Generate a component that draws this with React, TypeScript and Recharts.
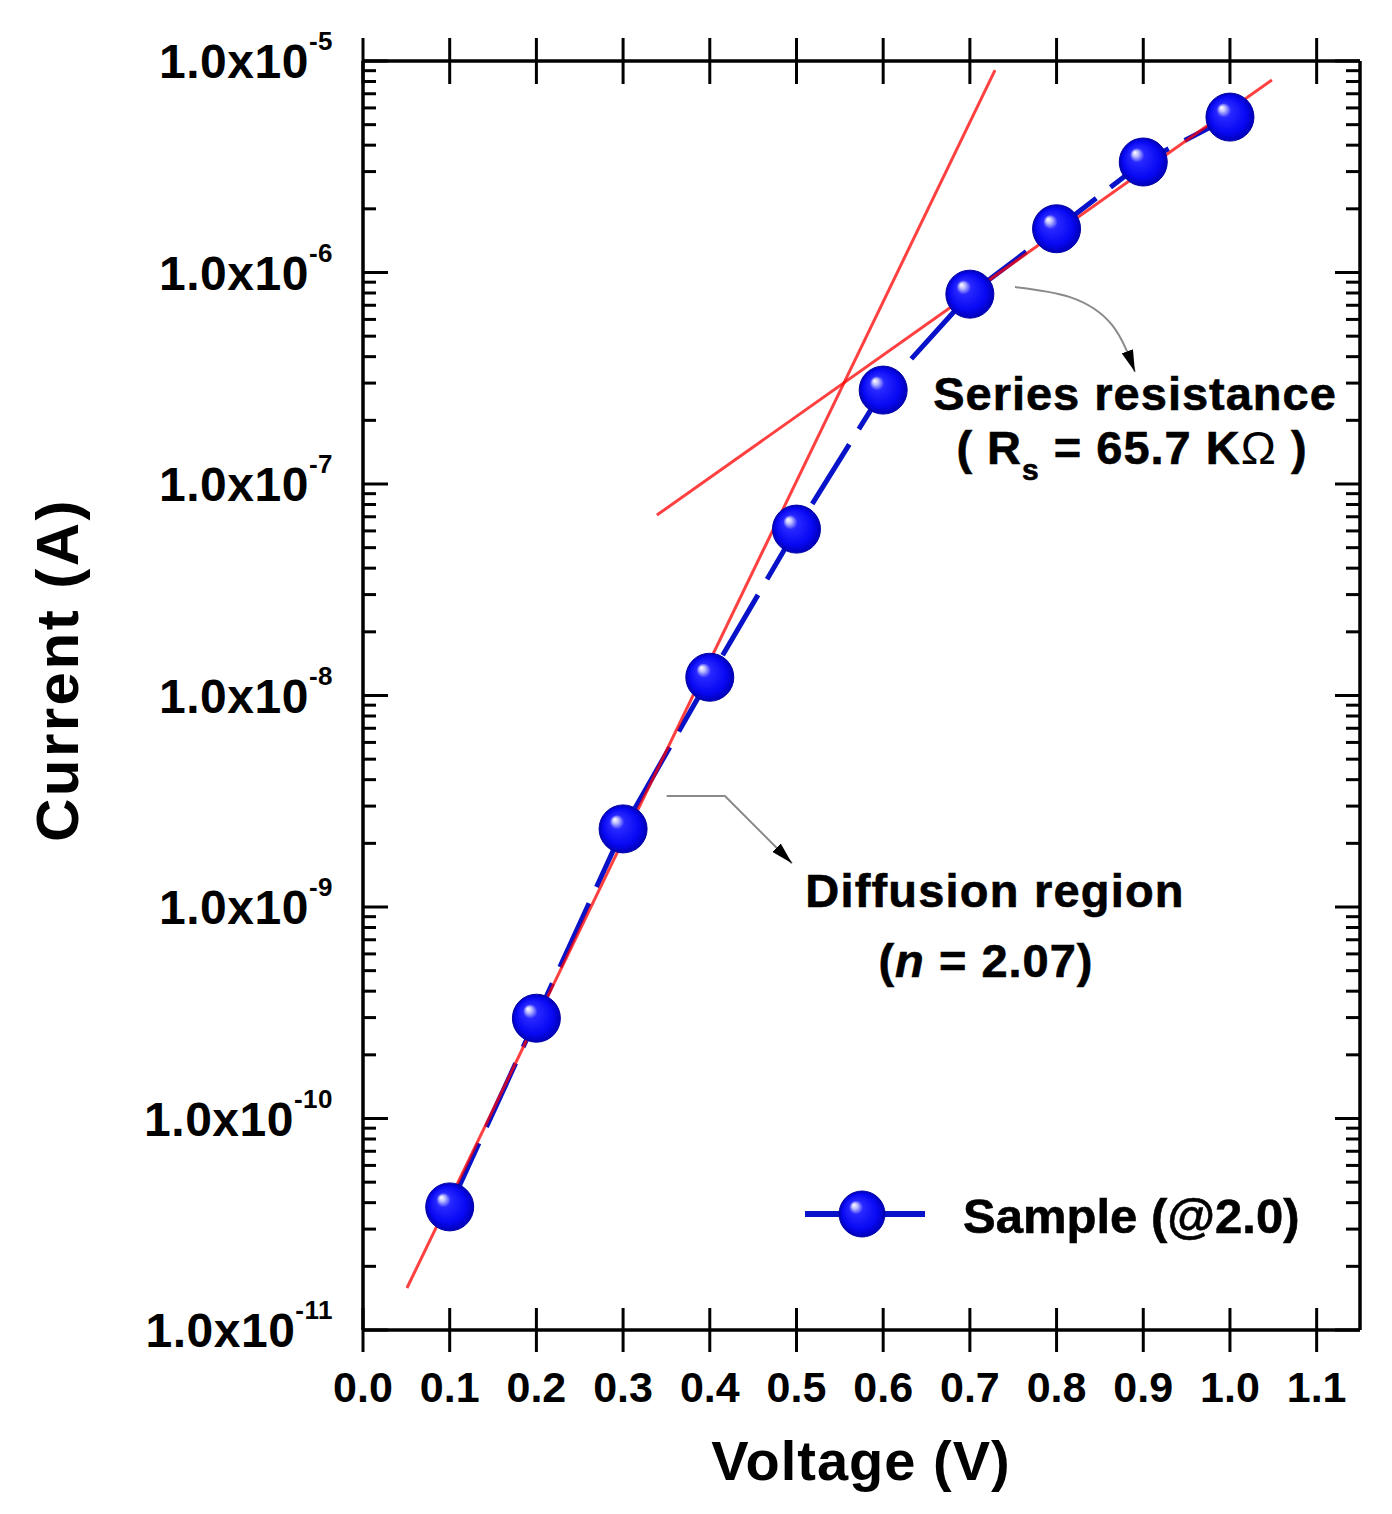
import React from 'react';
import { LineChart, Line, XAxis, YAxis, Customized } from 'recharts';

// ---------- data ----------
const voltages = [0.1, 0.2, 0.3, 0.4, 0.5, 0.6, 0.7, 0.8, 0.9, 1.0];
const currents = [3.82e-11, 2.98e-10, 2.34e-9, 1.22e-8, 6.12e-8, 2.78e-7, 7.9e-7, 1.61e-6, 3.33e-6, 5.43e-6];

const diffusionFitX = [0.0507, 0.729];
const diffusionFitY = [1.58e-11, 9.05e-6];
const seriesFitX = [0.339, 1.0484];
const seriesFitY = [7.13e-8, 8.13e-6];

const arrowSeriesX = [0.752, 0.8155, 0.8639, 0.8904];
const arrowSeriesY = [8.53e-7, 7.65e-7, 5.65e-7, 3.39e-7];
const arrowDiffX = [0.3502, 0.4175, 0.4948];
const arrowDiffY = [3.35e-9, 3.35e-9, 1.61e-9];

const xTicks = [0, 0.1, 0.2, 0.3, 0.4, 0.5, 0.6, 0.7, 0.8, 0.9, 1.0, 1.1];
const yMajorTicks = [1e-11, 1e-10, 1e-9, 1e-8, 1e-7, 1e-6, 1e-5];
const yMinorMultipliers = [2, 3, 4, 5, 6, 7, 8, 9];

const xTitle = 'Voltage (V)';
const yTitle = 'Current (A)';
const legendLabel = 'Sample (@2.0)';

// ---------- derived tables ----------
const zip = (xs: number[], ys: number[]) => xs.map((x, i) => ({ x, y: ys[i] }));
const sampleData = zip(voltages, currents);
const diffusionFit = zip(diffusionFitX, diffusionFitY);
const seriesFit = zip(seriesFitX, seriesFitY);
const arrowSeries = zip(arrowSeriesX, arrowSeriesY);
const arrowDiff = zip(arrowDiffX, arrowDiffY);

const yTicks: number[] = [];
yMajorTicks.forEach((m, i) => {
  yTicks.push(m);
  if (i < yMajorTicks.length - 1) yMinorMultipliers.forEach((k) => yTicks.push(parseFloat((m * k).toPrecision(3))));
});

const FONT = '"Liberation Sans", Arial, Helvetica, sans-serif';
const BLUE = '#0812c8';

const isMajor = (v: number) => {
  const lg = Math.log10(v);
  return Math.abs(lg - Math.round(lg)) < 1e-6;
};

function YTickLeft(props: any) {
  const { x, y, payload } = props;
  const v = payload.value;
  const major = isMajor(v);
  const exp = Math.round(Math.log10(v));
  return (
    <g>
      <line x1={x} x2={x + (major ? 25 : 13)} y1={y} y2={y} stroke="#000" strokeWidth={3} />
      {major && (
        <text x={x - 30} y={y + 17} textAnchor="end" fontFamily={FONT} fontWeight="bold" fontSize={48} letterSpacing={0.5} fill="#000">
          1.0x10
          <tspan dy={-28} fontSize={26}>
            {String(exp)}
          </tspan>
        </text>
      )}
    </g>
  );
}

function YTickRight(props: any) {
  const { x, y, payload } = props;
  const major = isMajor(payload.value);
  return <line x1={x - (major ? 25 : 14)} x2={x} y1={y} y2={y} stroke="#000" strokeWidth={3} />;
}

function XTickBottom(props: any) {
  const { x, y, payload } = props;
  return (
    <g>
      <line x1={x} x2={x} y1={y - 22} y2={y + 22} stroke="#000" strokeWidth={3} />
      <text x={x} y={y + 72} textAnchor="middle" fontFamily={FONT} fontWeight="bold" fontSize={43} fill="#000">
        {Number(payload.value).toFixed(1)}
      </text>
    </g>
  );
}

function XTickTop(props: any) {
  const { x, y } = props;
  return <line x1={x} x2={x} y1={y - 23} y2={y + 23} stroke="#000" strokeWidth={3} />;
}

function SphereDot(props: any) {
  const { cx, cy } = props;
  if (cx == null || cy == null) return null;
  return <circle cx={cx} cy={cy} r={24} fill="url(#sphereGrad)" stroke="#0000a8" strokeWidth={1} />;
}

function Overlay() {
  const t = { fontFamily: FONT, fontWeight: 'bold' as const, fill: '#000' };
  return (
    <g>
      {/* axis titles */}
      <text x={861} y={1480} textAnchor="middle" fontSize={56} letterSpacing={1} {...t}>
        {xTitle}
      </text>
      <text x={78} y={670} textAnchor="middle" fontSize={60} letterSpacing={2.5} transform="rotate(-90 78 670)" {...t}>
        {yTitle}
      </text>

      {/* annotations */}
      <text x={1135} y={410} textAnchor="middle" fontSize={47} letterSpacing={1} stroke="#000" strokeWidth={0.6} {...t}>
        Series resistance
      </text>
      <text x={1132} y={464} textAnchor="middle" fontSize={47} letterSpacing={1} stroke="#000" strokeWidth={0.6} {...t}>
        ( R
        <tspan fontSize={30} dy={16}>s</tspan>
        <tspan dy={-16}> = 65.7 K</tspan>
        <tspan fontWeight="normal" strokeWidth={0}>Ω</tspan> )
      </text>
      <text x={995} y={907} textAnchor="middle" fontSize={47} letterSpacing={1.2} stroke="#000" strokeWidth={0.6} {...t}>
        Diffusion region
      </text>
      <text x={986} y={977} textAnchor="middle" fontSize={47} letterSpacing={1} stroke="#000" strokeWidth={0.6} {...t}>
        (<tspan fontStyle="italic">n</tspan> = 2.07)
      </text>

      {/* legend */}
      <line x1={805} x2={925} y1={1214} y2={1214} stroke={BLUE} strokeWidth={6} />
      <circle cx={862} cy={1214} r={23} fill="url(#sphereGrad)" stroke="#0000a8" strokeWidth={1} />
      <text x={963} y={1233} fontSize={49} stroke="#000" strokeWidth={0.6} {...t}>
        {legendLabel}
      </text>
    </g>
  );
}

export default function App() {
  return (
    <div style={{ position: 'absolute', left: 0, top: 0, width: 1392, height: 1514, background: '#fff' }}>
      <svg width={0} height={0} style={{ position: 'absolute' }}>
        <defs>
          <radialGradient id="sphereGrad" cx="0.5" cy="0.5" r="0.5" fx="0.32" fy="0.3">
            <stop offset="0" stopColor="#ffffff" />
            <stop offset="0.12" stopColor="#c0c0ff" />
            <stop offset="0.3" stopColor="#2828ff" />
            <stop offset="0.75" stopColor="#0808f4" />
            <stop offset="1" stopColor="#0000b8" />
          </radialGradient>
          <marker
            id="arrowHead"
            viewBox="0 0 22 12"
            refX="22"
            refY="6"
            markerWidth="22"
            markerHeight="12"
            markerUnits="userSpaceOnUse"
            orient="auto"
          >
            <path d="M0,0 L22,6 L0,12 z" fill="#000" />
          </marker>
        </defs>
      </svg>
      <LineChart width={1392} height={1514} margin={{ top: 21, right: 12, bottom: 84, left: 0 }}>
        <XAxis
          dataKey="x"
          type="number"
          domain={[0, 1.15]}
          allowDataOverflow
          ticks={xTicks}
          interval={0}
          height={100}
          tickSize={0}
          tickMargin={0}
          tickLine={false}
          axisLine={{ stroke: '#000', strokeWidth: 3.5 }}
          tick={<XTickBottom />}
        />
        <XAxis
          xAxisId="top"
          orientation="top"
          dataKey="x"
          type="number"
          domain={[0, 1.15]}
          allowDataOverflow
          ticks={xTicks}
          interval={0}
          height={40}
          tickSize={0}
          tickMargin={0}
          tickLine={false}
          axisLine={{ stroke: '#000', strokeWidth: 3.5 }}
          tick={<XTickTop />}
        />
        <YAxis
          dataKey="y"
          type="number"
          scale="log"
          domain={[1e-11, 1e-5]}
          allowDataOverflow
          ticks={yTicks}
          interval={0}
          width={363}
          tickSize={0}
          tickMargin={0}
          tickLine={false}
          axisLine={{ stroke: '#000', strokeWidth: 3.5 }}
          tick={<YTickLeft />}
        />
        <YAxis
          yAxisId="right"
          orientation="right"
          dataKey="y"
          type="number"
          scale="log"
          domain={[1e-11, 1e-5]}
          allowDataOverflow
          ticks={yTicks}
          interval={0}
          width={20}
          tickSize={0}
          tickMargin={0}
          tickLine={false}
          axisLine={{ stroke: '#000', strokeWidth: 3.5 }}
          tick={<YTickRight />}
        />
        <Line
          data={sampleData}
          dataKey="y"
          type="linear"
          stroke={BLUE}
          strokeWidth={5}
          strokeDasharray="70 18"
          dot={<SphereDot />}
          activeDot={false}
          isAnimationActive={false}
        />
        <Line
          data={diffusionFit}
          dataKey="y"
          type="linear"
          stroke="#ff0000"
          strokeOpacity={0.75}
          strokeWidth={3}
          dot={false}
          activeDot={false}
          isAnimationActive={false}
        />
        <Line
          data={seriesFit}
          dataKey="y"
          type="linear"
          stroke="#ff0000"
          strokeOpacity={0.75}
          strokeWidth={3}
          dot={false}
          activeDot={false}
          isAnimationActive={false}
        />
        <Line
          data={arrowSeries}
          dataKey="y"
          type="natural"
          stroke="#8a8a8a"
          strokeWidth={2}
          markerEnd="url(#arrowHead)"
          dot={false}
          activeDot={false}
          isAnimationActive={false}
        />
        <Line
          data={arrowDiff}
          dataKey="y"
          type="linear"
          stroke="#8a8a8a"
          strokeWidth={2}
          markerEnd="url(#arrowHead)"
          dot={false}
          activeDot={false}
          isAnimationActive={false}
        />
        <Customized component={<Overlay />} />
      </LineChart>
    </div>
  );
}
